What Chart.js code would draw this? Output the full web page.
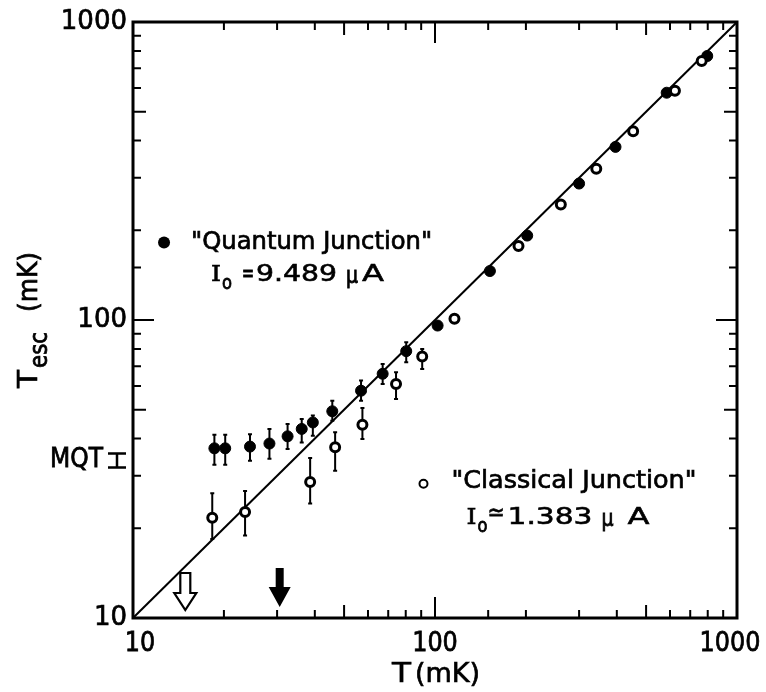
<!DOCTYPE html>
<html>
<head>
<meta charset="utf-8">
<title>Escape temperature vs. bath temperature</title>
<script src="https://cdn.jsdelivr.net/npm/chart.js@4.4.0/dist/chart.umd.min.js"></script>
<style>
    html, body { margin: 0; padding: 0; background: #fff; }
    #wrap { width: 766px; height: 692px; }
</style>
</head>
<body>
<div id="wrap"><canvas id="escChart" width="766" height="692"></canvas></div>
<script>
// "Quantum junction" (filled) — T in mK, T_esc in mK, error bar limits for the low-T points
const quantumT    = [18.6, 20.2, 24.4, 28.3, 32.5, 36.2, 39.4, 45.7, 56.9, 67.1, 80.3, 102, 152, 202, 300, 396, 585, 797];
const quantumTesc = [37.1, 37.1, 37.6, 38.5, 40.7, 43.1, 45.3, 49.4, 57.9, 66.0, 78.6, 95.8, 146, 192, 287, 381, 579, 769];
const quantumLow  = [32.7, 32.7, 33.7, 34.2, 36.9, 38.8, 40.9, 45.9, 53.6, 61.0, 72.2];
const quantumHigh = [41.2, 41.2, 41.4, 43.1, 44.8, 46.5, 47.8, 53.6, 62.6, 71.2, 84.2];

// "Classical junction" (open)
const classicalT    = [18.3, 23.5, 38.6, 46.7, 57.5, 74.3, 90.7, 116, 189, 261, 342, 453, 623, 764];
const classicalTesc = [21.7, 22.7, 28.6, 37.4, 44.5, 61.0, 75.4, 101, 177, 244, 322, 430, 588, 740];
const classicalLow  = [18.4, 18.9, 24.2, 31.2, 39.9, 54.3, 68.5];
const classicalHigh = [26.2, 26.7, 34.4, 42.0, 50.7, 66.8, 80.0];

// T_esc = T
const unityLine = [10, 1000];

// labelled decades on both axes
const xTickLabels = [10, 100, 1000];
const yTickLabels = [10, 100, 1000];

// crossover temperatures marked by arrows: classical (open), quantum (filled)
const arrowT = [14.9, 30.6];

// macroscopic quantum tunnelling prediction for T_esc
const mqtTesc = 33.8;

const FONT = '"DejaVu Sans", sans-serif';
const INK = 0.7;   // extra stroke so the lettering reads as heavy as pen lettering

function isLabelled(list, v) {
    return list.some(t => Math.abs(t - v) < 1e-6 * t);
}

// draw text starting at x, stretched or squeezed to the given width
function fitText(ctx, text, x, y, width) {
    const natural = ctx.measureText(text).width;
    const k = width ? width / natural : 1;
    ctx.save();
    ctx.translate(x, y);
    ctx.scale(k, 1);
    ctx.lineWidth = INK / k;
    ctx.strokeText(text, 0, 0);
    ctx.fillText(text, 0, 0);
    ctx.restore();
}

const errorBars = {
    id: 'errorBars',
    beforeDatasetsDraw(chart) {
        const ctx = chart.ctx;
        const yScale = chart.scales.y;
        ctx.save();
        ctx.strokeStyle = '#000';
        ctx.lineWidth = 2;
        chart.data.datasets.forEach((ds, i) => {
            if (!ds.errLow) return;
            const points = chart.getDatasetMeta(i).data;
            ds.errLow.forEach((lo, j) => {
                const x = points[j].x;
                const yLo = yScale.getPixelForValue(lo);
                const yHi = yScale.getPixelForValue(ds.errHigh[j]);
                ctx.beginPath();
                ctx.moveTo(x, yHi);
                ctx.lineTo(x, yLo);
                ctx.moveTo(x - 2, yHi);
                ctx.lineTo(x + 2, yHi);
                ctx.moveTo(x - 2, yLo);
                ctx.lineTo(x + 2, yLo);
                ctx.stroke();
            });
        });
        ctx.restore();
    }
};

// inward tick marks on all four sides, the heavy frame and the T labels
const frameTicks = {
    id: 'frameTicks',
    afterDraw(chart) {
        const { ctx, chartArea: a, scales } = chart;
        const len = v => {
            const m = Math.round(v / Math.pow(10, Math.floor(Math.log10(v) + 1e-9)));
            return m === 1 ? 21 : m === 5 ? 13 : 8;
        };
        ctx.save();
        ctx.strokeStyle = '#000';
        ctx.fillStyle = '#000';
        ctx.lineWidth = 2;
        scales.x.ticks.forEach(t => {
            const x = scales.x.getPixelForValue(t.value);
            if (x <= a.left + 1 || x >= a.right - 1) return;
            const l = len(t.value);
            ctx.beginPath();
            ctx.moveTo(x, a.bottom);
            ctx.lineTo(x, a.bottom - l);
            ctx.moveTo(x, a.top);
            ctx.lineTo(x, a.top + l);
            ctx.stroke();
        });
        scales.y.ticks.forEach(t => {
            const y = scales.y.getPixelForValue(t.value);
            if (y <= a.top + 1 || y >= a.bottom - 1) return;
            const l = len(t.value);
            ctx.beginPath();
            ctx.moveTo(a.left, y);
            ctx.lineTo(a.left + l, y);
            ctx.moveTo(a.right, y);
            ctx.lineTo(a.right - l, y);
            ctx.stroke();
        });
        ctx.lineWidth = 3;
        ctx.strokeRect(a.left, a.top, a.right - a.left, a.bottom - a.top);

        // T labels, the end ones pulled in a little so they stay on the canvas
        ctx.font = '26px ' + FONT;
        ctx.textBaseline = 'middle';
        xTickLabels.forEach(v => {
            const text = String(v);
            const w = ctx.measureText(text).width * 0.92;
            const x = Math.min(Math.max(scales.x.getPixelForValue(v), a.left + 7), a.right - 7);
            fitText(ctx, text, x - w / 2, a.bottom + 26, w);
        });
        ctx.restore();
    }
};

// "I" with subscript "o"
function drawIo(ctx, x, y) {
    ctx.font = '23px "DejaVu Serif", serif';
    fitText(ctx, 'I', x, y, 10);
    ctx.font = '19px ' + FONT;
    fitText(ctx, 'o', x + 11, y + 9, 10);
}

const annotations = {
    id: 'annotations',
    afterDraw(chart) {
        const { ctx, chartArea: a, scales } = chart;
        const xs = scales.x, ys = scales.y;
        ctx.save();
        ctx.fillStyle = '#000';
        ctx.strokeStyle = '#000';
        ctx.textBaseline = 'middle';
        ctx.textAlign = 'left';

        // quantum junction key
        let kx = xs.getPixelForValue(12.67), ky = ys.getPixelForValue(182);
        ctx.beginPath();
        ctx.arc(kx, ky, 6, 0, Math.PI * 2);
        ctx.fill();
        ctx.font = '25px ' + FONT;
        fitText(ctx, '"Quantum Junction"', kx + 27, ky, 241);
        drawIo(ctx, kx + 47, ky + 33);
        ctx.font = '23px ' + FONT;
        fitText(ctx, '=', kx + 78, ky + 33, 12);
        fitText(ctx, '9.489', kx + 92, ky + 33, 81);
        fitText(ctx, '\u03bc', kx + 182, ky + 35, 12);
        fitText(ctx, 'A', kx + 198, ky + 33, 22);

        // classical junction key
        kx = xs.getPixelForValue(91.6);
        ky = ys.getPixelForValue(28.2);
        ctx.beginPath();
        ctx.arc(kx, ky, 4, 0, Math.PI * 2);
        ctx.lineWidth = 2;
        ctx.stroke();
        ctx.font = '25px ' + FONT;
        fitText(ctx, '"Classical Junction"', kx + 28, ky - 2, 245);
        drawIo(ctx, kx + 43, ky + 34);
        ctx.font = '23px ' + FONT;
        fitText(ctx, '\u2243', kx + 64, ky + 30, 17);
        fitText(ctx, '1.383', kx + 84, ky + 34, 85);
        fitText(ctx, '\u03bc', kx + 178, ky + 36, 12);
        fitText(ctx, 'A', kx + 204, ky + 34, 22);

        // MQT level on the T_esc axis
        const my = ys.getPixelForValue(mqtTesc);
        ctx.font = '26px ' + FONT;
        fitText(ctx, 'MQT', 50, my, 53);
        const sx = a.left - 16;
        ctx.lineWidth = 2.5;
        ctx.beginPath();
        ctx.moveTo(sx - 9, my - 7);
        ctx.lineTo(sx + 9, my - 7);
        ctx.moveTo(sx, my - 7);
        ctx.lineTo(sx, my + 7);
        ctx.moveTo(sx - 9, my + 7);
        ctx.lineTo(sx + 9, my + 7);
        ctx.stroke();

        // crossover arrows
        arrowT.forEach((t, i) => {
            const x = xs.getPixelForValue(t);
            const filled = i === 1;
            const top = a.bottom - (filled ? 50 : 45);
            const neck = a.bottom - (filled ? 31 : 25);
            const tip = a.bottom - (filled ? 11 : 8);
            const sw = filled ? 4 : 5;
            const hw = 11;
            ctx.beginPath();
            ctx.moveTo(x - sw, top);
            ctx.lineTo(x + sw, top);
            ctx.lineTo(x + sw, neck);
            ctx.lineTo(x + hw, neck);
            ctx.lineTo(x, tip);
            ctx.lineTo(x - hw, neck);
            ctx.lineTo(x - sw, neck);
            ctx.closePath();
            if (filled) {
                ctx.fill();
            } else {
                ctx.fillStyle = '#fff';
                ctx.fill();
                ctx.fillStyle = '#000';
                ctx.lineWidth = 2.2;
                ctx.stroke();
            }
        });

        // axis titles
        ctx.textBaseline = 'alphabetic';
        ctx.font = '27px ' + FONT;
        fitText(ctx, 'T', 392, 682, 19);
        fitText(ctx, '(mK)', 415, 682, 65);

        ctx.save();
        ctx.translate(37, 388);
        ctx.rotate(-Math.PI / 2);
        ctx.font = '27px ' + FONT;
        fitText(ctx, 'T', 0, 0, 18);
        ctx.font = '24px ' + FONT;
        fitText(ctx, 'esc', 20, 10, 36);
        ctx.font = '27px ' + FONT;
        fitText(ctx, '(mK)', 76, 0, 60);
        ctx.restore();

        ctx.restore();
    }
};

const tickFont = { family: FONT, size: 26 };

new Chart(document.getElementById('escChart'), {
    type: 'scatter',
    data: {
        datasets: [
            {
                type: 'line',
                label: 'T_esc = T',
                data: unityLine.map(v => ({ x: v, y: v })),
                borderColor: '#000',
                borderWidth: 2,
                pointRadius: 0,
                order: 3
            },
            {
                label: 'Quantum Junction',
                data: quantumT.map((t, i) => ({ x: t, y: quantumTesc[i] })),
                errLow: quantumLow,
                errHigh: quantumHigh,
                pointRadius: 5.5,
                backgroundColor: '#000',
                borderColor: '#000',
                borderWidth: 1,
                order: 2
            },
            {
                label: 'Classical Junction',
                data: classicalT.map((t, i) => ({ x: t, y: classicalTesc[i] })),
                errLow: classicalLow,
                errHigh: classicalHigh,
                pointRadius: 4.5,
                backgroundColor: '#fff',
                borderColor: '#000',
                borderWidth: 3,
                order: 1
            }
        ]
    },
    options: {
        responsive: false,
        animation: false,
        devicePixelRatio: 1,
        layout: { padding: { left: 0, top: 22, right: 29, bottom: 0 } },
        plugins: {
            legend: { display: false },
            tooltip: { enabled: false }
        },
        scales: {
            x: {
                type: 'logarithmic',
                min: 10,
                max: 1000,
                grid: { display: false, drawTicks: false },
                border: { display: false },
                ticks: { display: false },
                afterFit(scale) {
                    scale.height = 74;
                    scale.paddingLeft = 0;
                    scale.paddingRight = 0;
                }
            },
            y: {
                type: 'logarithmic',
                min: 10,
                max: 1000,
                grid: { display: false, drawTicks: false },
                border: { display: false },
                ticks: {
                    autoSkip: false,
                    padding: 6,
                    color: '#000',
                    textStrokeColor: '#000',
                    textStrokeWidth: INK,
                    font: tickFont,
                    callback: v => isLabelled(yTickLabels, v) ? String(v) : ''
                },
                afterFit(scale) {
                    scale.width = 133;
                    scale.paddingTop = 0;
                    scale.paddingBottom = 0;
                }
            }
        }
    },
    plugins: [errorBars, frameTicks, annotations]
});
</script>
</body>
</html>
